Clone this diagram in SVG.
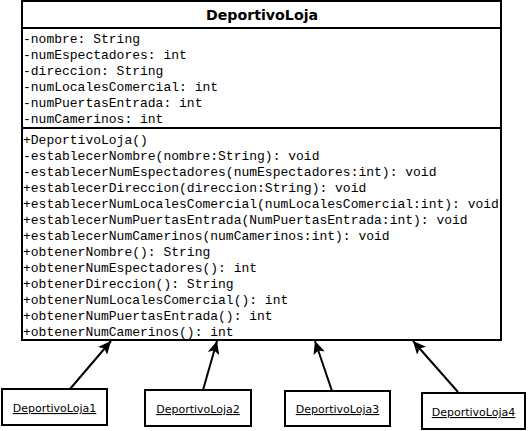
<svg xmlns="http://www.w3.org/2000/svg" width="529" height="431" viewBox="0 0 529 431">
<style>
.box{fill:#fff;stroke:#000;stroke-width:2}
.sep{stroke:#000;stroke-width:2}
.mono{font-family:"Liberation Mono","Courier New",monospace;font-size:13px;fill:#000}
.title{font-family:"DejaVu Sans",Verdana,sans-serif;font-weight:bold;font-size:14.2px;fill:#000}
.lbl{font-family:"DejaVu Sans",Verdana,sans-serif;font-size:11px;fill:#000;text-decoration:underline}
.edge{stroke:#000;stroke-width:2;fill:none}
</style>
<defs>
<marker id="arr" markerUnits="userSpaceOnUse" markerWidth="14" markerHeight="12" viewBox="0 0 14 12" refX="13" refY="6" orient="auto">
<path d="M0,0 L13,6 L0,12 L3,6 Z" fill="#000"/>
</marker>
</defs>
<rect width="529" height="431" fill="#fff"/>
<g id="connectors">
<line class="edge" x1="70" y1="389" x2="111" y2="341" marker-end="url(#arr)"/>
<line class="edge" x1="203" y1="390" x2="217" y2="341" marker-end="url(#arr)"/>
<line class="edge" x1="332" y1="391" x2="315" y2="341" marker-end="url(#arr)"/>
<line class="edge" x1="458" y1="392" x2="413" y2="341" marker-end="url(#arr)"/>
</g>
<g id="DeportivoLoja">
<rect class="box" x="22" y="1" width="479" height="339"/>
<line class="sep" x1="22" y1="28" x2="501" y2="28"/>
<line class="sep" x1="22" y1="128" x2="501" y2="128"/>
<text class="title" x="262" y="20" text-anchor="middle">DeportivoLoja</text>
<text class="mono" x="23" y="43">-nombre: String</text>
<text class="mono" x="23" y="59">-numEspectadores: int</text>
<text class="mono" x="23" y="75">-direccion: String</text>
<text class="mono" x="23" y="91">-numLocalesComercial: int</text>
<text class="mono" x="23" y="107">-numPuertasEntrada: int</text>
<text class="mono" x="23" y="123">-numCamerinos: int</text>
<text class="mono" x="23" y="144">+DeportivoLoja()</text>
<text class="mono" x="23" y="160">-establecerNombre(nombre:String): void</text>
<text class="mono" x="23" y="176">-establecerNumEspectadores(numEspectadores:int): void</text>
<text class="mono" x="23" y="192">+establecerDireccion(direccion:String): void</text>
<text class="mono" x="23" y="208">+establecerNumLocalesComercial(numLocalesComercial:int): void</text>
<text class="mono" x="23" y="224">+establecerNumPuertasEntrada(NumPuertasEntrada:int): void</text>
<text class="mono" x="23" y="240">+establecerNumCamerinos(numCamerinos:int): void</text>
<text class="mono" x="23" y="256">+obtenerNombre(): String</text>
<text class="mono" x="23" y="272">+obtenerNumEspectadores(): int</text>
<text class="mono" x="23" y="288">+obtenerDireccion(): String</text>
<text class="mono" x="23" y="304">+obtenerNumLocalesComercial(): int</text>
<text class="mono" x="23" y="320">+obtenerNumPuertasEntrada(): int</text>
<text class="mono" x="23" y="336">+obtenerNumCamerinos(): int</text>
</g>
<g id="DeportivoLoja1">
<rect class="box" x="2" y="389" width="105" height="36"/>
<text class="lbl" x="54.5" y="412" text-anchor="middle">DeportivoLoja1</text>
</g>
<g id="DeportivoLoja2">
<rect class="box" x="145" y="390" width="106" height="36"/>
<text class="lbl" x="198" y="413" text-anchor="middle">DeportivoLoja2</text>
</g>
<g id="DeportivoLoja3">
<rect class="box" x="285" y="391" width="105" height="35"/>
<text class="lbl" x="337.5" y="413" text-anchor="middle">DeportivoLoja3</text>
</g>
<g id="DeportivoLoja4">
<rect class="box" x="422" y="393" width="103" height="36"/>
<text class="lbl" x="473.5" y="416" text-anchor="middle">DeportivoLoja4</text>
</g>
</svg>
